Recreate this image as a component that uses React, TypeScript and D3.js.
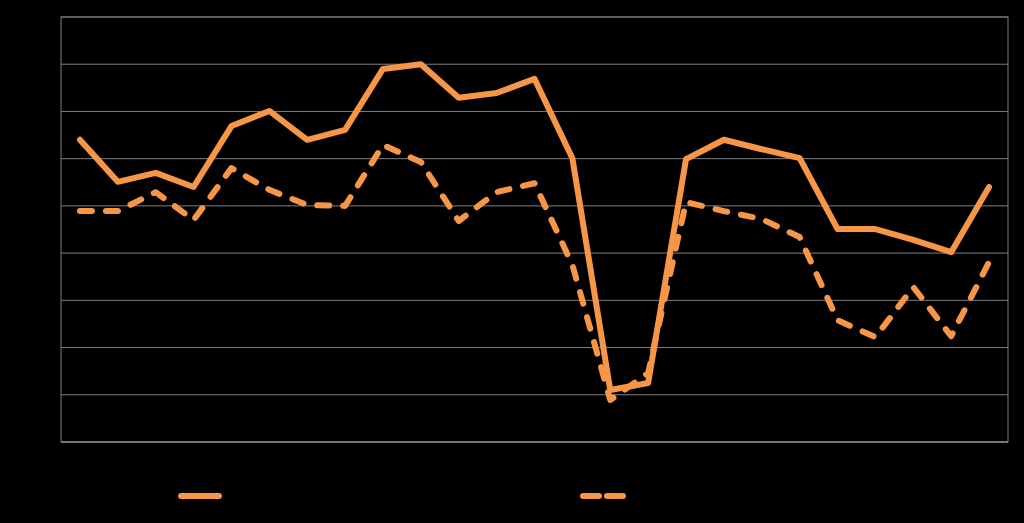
import React from "react";
import * as d3 from "d3";

const categories = Array.from({ length: 25 }, (_, i) => `P${i + 1}`);
const seriesSolid = [6.40, 5.51, 5.70, 5.40, 6.69, 7.01, 6.40, 6.61, 7.90, 8.00, 7.29, 7.39, 7.69, 6.01, 1.10, 1.25, 5.99, 6.40, 6.20, 6.01, 4.51, 4.51, 4.28, 4.02, 5.40];
const seriesDashed = [4.89, 4.89, 5.29, 4.70, 5.80, 5.34, 5.02, 5.00, 6.29, 5.93, 4.68, 5.29, 5.48, 3.75, 0.89, 1.46, 5.08, 4.89, 4.72, 4.34, 2.58, 2.22, 3.28, 2.24, 3.81];
const yTicks = [0, 1, 2, 3, 4, 5, 6, 7, 8, 9];

const W = 1024, H = 523;
const L = 61, R = 1008, T = 17, B = 442;
const ORANGE = "#F79646";
const GRID = "#7f7f7f";

export default function App() {
  const x = d3.scaleBand<string>().domain(categories).range([L, R]);
  const y = d3.scaleLinear().domain([0, 9]).range([B, T]);
  const cx = (i: number) => (x(categories[i]) as number) + x.bandwidth() / 2;
  const line = d3.line<number>().x((_, i) => cx(i)).y((d) => y(d));

  return (
    <svg width={W} height={H} style={{ position: "absolute", left: 0, top: 0, display: "block" }}>
      <rect x={0} y={0} width={W} height={H} fill="#000" />
      {yTicks.map((t) => (
        <line key={t} x1={L} x2={R} y1={y(t)} y2={y(t)} stroke={GRID} strokeWidth={1} />
      ))}
      <rect x={L} y={T} width={R - L} height={B - T} fill="none" stroke={GRID} strokeWidth={1} />
      <line x1={L} x2={R} y1={B} y2={B} stroke={GRID} strokeWidth={1.5} />
      <path d={line(seriesDashed) || ""} fill="none" stroke={ORANGE} strokeWidth={6}
        strokeDasharray="12 14" strokeLinecap="round" strokeLinejoin="round" />
      <path d={line(seriesSolid) || ""} fill="none" stroke={ORANGE} strokeWidth={6}
        strokeLinecap="round" strokeLinejoin="round" />
      <line x1={181} x2={219} y1={496} y2={496} stroke={ORANGE} strokeWidth={6} strokeLinecap="round" />
      <line x1={583} x2={624} y1={496} y2={496} stroke={ORANGE} strokeWidth={6}
        strokeDasharray="16 8" strokeLinecap="round" />
    </svg>
  );
}
